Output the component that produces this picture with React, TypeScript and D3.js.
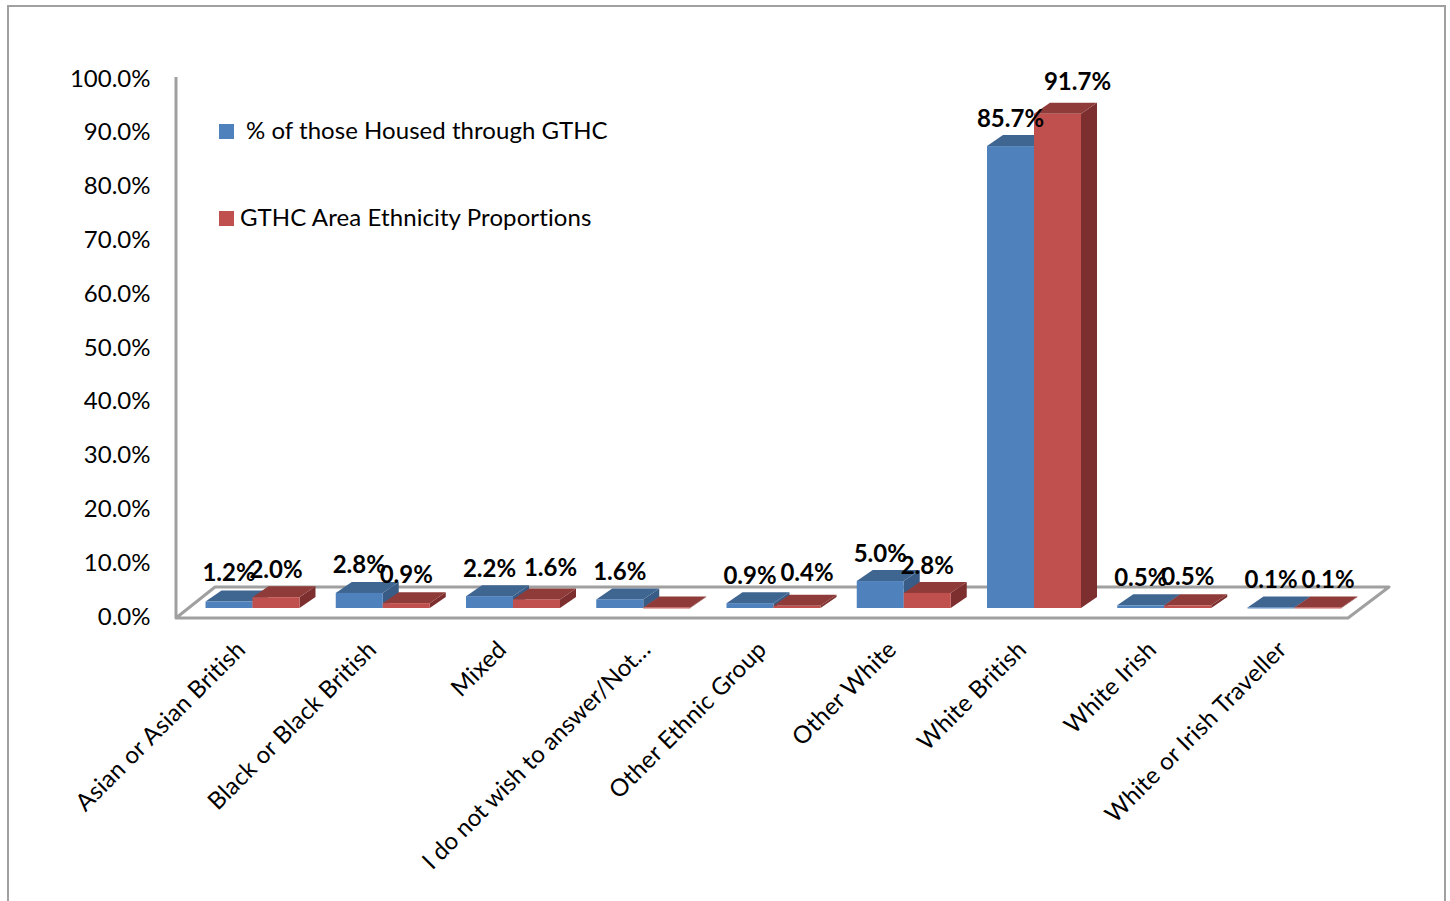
import React from "react";
import * as d3 from "d3";

const categories = [
  "Asian or Asian British",
  "Black or Black British",
  "Mixed",
  "I do not wish to answer/Not…",
  "Other Ethnic Group",
  "Other White",
  "White British",
  "White Irish",
  "White or Irish Traveller",
];
const housed = [1.2, 2.8, 2.2, 1.6, 0.9, 5.0, 85.7, 0.5, 0.1];
const area = [2.0, 0.9, 1.6, 0.1, 0.4, 2.8, 91.7, 0.5, 0.1];
const areaLabels = ["2.0%", "0.9%", "1.6%", "", "0.4%", "2.8%", "91.7%", "0.5%", "0.1%"];
const housedLabels = ["1.2%", "2.8%", "2.2%", "1.6%", "0.9%", "5.0%", "85.7%", "0.5%", "0.1%"];
const yTicks = [0, 10, 20, 30, 40, 50, 60, 70, 80, 90, 100];
const seriesNames = ["% of those Housed through GTHC", "GTHC Area Ethnicity Proportions"];

const FONT = "Lato, 'Open Sans', sans-serif";
const blue = { front: "#4F81BD", top: "#3F6591", side: "#395C86" };
const red = { front: "#C0504D", top: "#8F3B39", side: "#7C2F2E" };
const DX = 16;
const DY = 11;
const BAR = 47;
const GRAY = "#A0A0A0";

// layout tweaks for the hand-placed data labels (category index -> dx, dy)
const areaNudge: Record<number, [number, number]> = { 1: [0, -1], 2: [14, -4], 4: [10, -5], 6: [20, -4], 7: [0, -1], 8: [10, 0] };
const housedNudge: Record<number, [number, number]> = { 0: [0, -1], 1: [0, -1] };
const catLabelEnd = [247, 378, 508, 652, 768, 898, 1028, 1158, 1288];

function Bar({ x, w, y0, y1, c }: { x: number; w: number; y0: number; y1: number; c: typeof blue }) {
  const poly = (pts: number[][]) => pts.map((p) => p.join(",")).join(" ");
  return (
    <g>
      <polygon fill={c.side} points={poly([[x + w, y1], [x + w + DX, y1 - DY], [x + w + DX, y0 - DY], [x + w, y0]])} />
      <polygon fill={c.top} points={poly([[x, y1], [x + DX, y1 - DY], [x + w + DX, y1 - DY], [x + w, y1]])} />
      <rect x={x} y={y1} width={w} height={Math.max(y0 - y1, 1)} fill={c.front} />
    </g>
  );
}

export default function App() {
  const y = d3.scaleLinear().domain([0, 100]).range([608, 69]);
  const yAxis = d3.scaleLinear().domain([0, 100]).range([616, 78]);
  const x = d3.scalePoint<string>().domain(categories).range([205.5, 1247.5]);

  return (
    <svg
      width={1450}
      height={901}
      style={{ position: "absolute", left: 0, top: 0, display: "block", background: "#fff" }}
      fontFamily={FONT}
    >
      <path d="M8 901V6H1445V901" fill="none" stroke={GRAY} strokeWidth={2} />

      {/* floor and wall */}
      <path d="M176 77V618H1348L1389 587H215L176 618" fill="none" stroke={GRAY} strokeWidth={3} strokeLinejoin="round" />

      {yTicks.map((t) => (
        <text key={t} x={150.5} y={yAxis(t)} dy="0.36em" textAnchor="end" fontSize={24} fill="#000">
          {t.toFixed(1)}%
        </text>
      ))}

      {categories.map((c, i) => {
        const x0 = x(c)!;
        return (
          <g key={c}>
            <Bar x={x0} w={BAR} y0={y(0)} y1={y(housed[i])} c={blue} />
            <Bar x={x0 + BAR} w={BAR} y0={y(0)} y1={y(area[i])} c={red} />
          </g>
        );
      })}

      {categories.map((c, i) => {
        const x0 = x(c)!;
        const hn = housedNudge[i] ?? [0, 0];
        const an = areaNudge[i] ?? [0, 0];
        return (
          <g key={c} fontWeight={700} fontSize={24} textAnchor="middle" fill="#000">
            <text x={x0 + BAR / 2 + hn[0]} y={y(housed[i]) - DY - 17 + hn[1]} dy="0.36em">
              {housedLabels[i]}
            </text>
            {areaLabels[i] && (
              <text x={x0 + BAR * 1.5 + an[0]} y={y(area[i]) - DY - 17 + an[1]} dy="0.36em">
                {areaLabels[i]}
              </text>
            )}
          </g>
        );
      })}

      {categories.map((c, i) => (
        <text
          key={c}
          transform={`translate(${catLabelEnd[i]},${651}) rotate(-45)`}
          textAnchor="end"
          fontSize={24}
          letterSpacing={i === 3 ? -0.1 : 0.25}
          fill="#000"
        >
          {c}
        </text>
      ))}

      <rect x={219} y={124} width={15} height={15} fill={blue.front} />
      <text x={246} y={130} dy="0.36em" fontSize={24} letterSpacing={0.04} fill="#000">
        {seriesNames[0]}
      </text>
      <rect x={219} y={211} width={15} height={15} fill={red.front} />
      <text x={240} y={217} dy="0.36em" fontSize={24} letterSpacing={0.1} fill="#000">
        {seriesNames[1]}
      </text>
    </svg>
  );
}
